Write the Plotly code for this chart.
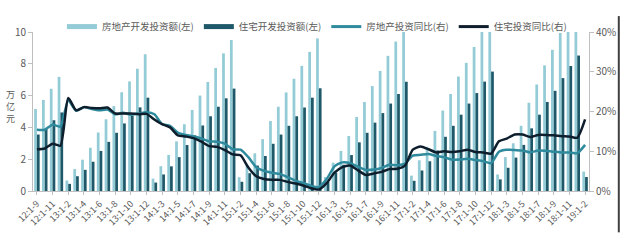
import plotly.graph_objects as go

categories = (
    ["12:1-9", "12:1-10", "12:1-11", "12:1-12"]
    + [f"{y}:1-{m}" for y in range(13, 19) for m in range(2, 13)]
    + ["19:1-2"]
)

re_invest = [5.16, 5.73, 6.43, 7.18,
             0.66, 1.38, 1.97, 2.72, 3.68, 4.51, 5.34, 6.21, 6.89, 7.69, 8.60,
             0.78, 1.56, 2.27, 3.12, 4.20, 5.10, 6.00, 6.86, 7.74, 8.66, 9.50,
             0.87, 1.66, 2.37, 3.26, 4.40, 5.30, 6.20, 7.06, 7.87, 8.75, 9.60,
             0.88, 1.78, 2.52, 3.46, 4.66, 5.60, 6.60, 7.55, 8.50, 9.40, 10.26,
             0.97, 1.93, 2.78, 3.78, 5.06, 6.10, 7.20, 8.06, 9.06, 10.10, 10.98,
             1.04, 2.13, 3.00, 4.10, 5.55, 6.70, 7.90, 8.88, 9.94, 11.00, 12.00,
             1.22]

res_invest = [3.55, 3.91, 4.45, 4.94,
              0.45, 0.93, 1.33, 1.84, 2.52, 3.09, 3.66, 4.25, 4.72, 5.26, 5.87,
              0.53, 1.04, 1.55, 2.13, 2.89, 3.50, 4.12, 4.70, 5.30, 5.83, 6.44,
              0.58, 1.12, 1.60, 2.20, 2.97, 3.55, 4.10, 4.70, 5.25, 5.87, 6.46,
              0.58, 1.16, 1.65, 2.26, 3.06, 3.66, 4.30, 4.90, 5.50, 6.10, 6.87,
              0.64, 1.29, 1.87, 2.55, 3.41, 4.10, 4.80, 5.50, 6.16, 6.88, 7.51,
              0.73, 1.46, 2.10, 2.90, 3.94, 4.80, 5.60, 6.30, 7.10, 7.86, 8.52,
              0.88]

re_yoy = [15.4, 15.4, 16.7, 16.2,
          22.8, 20.2, 21.1, 20.6, 20.3, 20.5, 19.3, 19.7, 19.2, 19.5, 19.8,
          19.3, 16.8, 16.4, 14.7, 14.1, 13.7, 13.2, 12.5, 12.4, 11.9, 10.5,
          10.4, 8.5, 6.0, 5.1, 4.6, 4.3, 3.5, 2.6, 2.0, 1.3, 1.0,
          3.0, 6.2, 7.2, 7.0, 6.1, 5.3, 5.4, 5.8, 6.6, 6.5, 6.9,
          8.9, 9.1, 9.3, 8.8, 8.5, 7.9, 7.9, 8.1, 7.8, 7.5, 7.0,
          9.9, 10.4, 10.3, 10.2, 9.7, 10.2, 10.1, 9.9, 9.7, 9.7, 9.5,
          11.6]

res_yoy = [10.5, 10.7, 11.9, 11.4,
           23.4, 20.3, 21.1, 20.9, 20.8, 21.0, 19.5, 19.5, 19.5, 19.3, 19.4,
           18.0, 16.8, 16.0, 14.0, 13.7, 13.3, 12.4, 11.3, 11.1, 10.3, 9.2,
           9.0, 5.9, 3.7, 3.0, 2.8, 2.8, 2.3, 1.9, 1.4, 0.7, 0.4,
           2.0, 4.6, 6.0, 6.4, 5.2, 4.0, 4.4, 4.8, 5.5, 5.6, 6.4,
           10.4, 11.2, 10.5, 9.7, 10.0, 9.8, 10.0, 10.4, 9.8, 9.7, 9.4,
           12.5, 13.2, 14.2, 14.2, 13.6, 14.1, 14.1, 14.0, 13.8, 13.7, 13.4,
           18.0]

tick_labels = categories[::2]
unit_chars = ["万", "亿", "元"]

FONT = "Noto Sans CJK SC"
GRAY = "#595959"
C_LIGHT = "#93CBD6"
C_DARK = "#1F5868"
C_TEAL = "#2E8A9C"
C_BLACK = "#0E1E2C"

fig = go.Figure()
fig.add_trace(go.Bar(x=categories, y=re_invest, name="房地产开发投资额(左)", showlegend=False,
                     marker=dict(color=C_LIGHT, line_width=0)))
fig.add_trace(go.Bar(x=categories, y=res_invest, name="住宅开发投资额(左)", showlegend=False,
                     marker=dict(color=C_DARK, line_width=0)))
fig.add_trace(go.Scatter(x=categories, y=[v / 100 for v in re_yoy], name="房地产投资同比(右)",
                         yaxis="y2", mode="lines", showlegend=False,
                         line=dict(color=C_TEAL, width=2.5, shape="spline", smoothing=0.6)))
fig.add_trace(go.Scatter(x=categories, y=[v / 100 for v in res_yoy], name="住宅投资同比(右)",
                         yaxis="y2", mode="lines", showlegend=False,
                         line=dict(color=C_BLACK, width=2.5, shape="spline", smoothing=0.6)))

# legend entries (wide bar-like swatches as in the reference)
for nm, col, w in [("房地产开发投资额(左)", C_LIGHT, 5), ("住宅开发投资额(左)", C_DARK, 5),
                   ("房地产投资同比(右)", C_TEAL, 3), ("住宅投资同比(右)", C_BLACK, 3)]:
    fig.add_trace(go.Scatter(x=[None], y=[None], mode="lines", name=nm,
                             line=dict(color=col, width=w), showlegend=True))

fig.update_layout(
    width=628, height=240,
    margin=dict(l=33, r=35, t=16, b=45),
    paper_bgcolor="white", plot_bgcolor="white",
    font=dict(family=FONT, size=10, color=GRAY),
    barmode="group", bargap=0.3, bargroupgap=0.0,
    showlegend=True,
    legend=dict(orientation="h", x=0.052, xanchor="left", y=1.034, yanchor="middle",
                font=dict(size=9.5, color=GRAY), bgcolor="rgba(0,0,0,0)",
                itemwidth=30, tracegroupgap=0),
    xaxis=dict(type="category", categoryorder="array", categoryarray=categories,
               tickmode="array", tickvals=tick_labels, ticktext=tick_labels,
               tickangle=-45, tickfont=dict(size=9, color=GRAY),
               showline=True, linecolor="#BFBFBF", linewidth=1,
               ticks="outside", ticklen=3, tickcolor="#BFBFBF",
               showgrid=False, zeroline=False),
    yaxis=dict(range=[0, 10], dtick=2, showgrid=False, zeroline=False,
               showline=True, linecolor="#BFBFBF", linewidth=1,
               ticks="outside", ticklen=4, tickcolor="#BFBFBF",
               tickfont=dict(size=10, color=GRAY)),
    yaxis2=dict(range=[0, 0.4], dtick=0.1, tickformat=".0%", overlaying="y", side="right",
                showgrid=False, zeroline=False,
                showline=True, linecolor="#BFBFBF", linewidth=1,
                ticks="outside", ticklen=4, tickcolor="#BFBFBF",
                tickfont=dict(size=10, color=GRAY)),
    annotations=[dict(text=ch, xref="paper", yref="paper",
                      x=-0.041, y=yy, xanchor="center", yanchor="middle", borderpad=0,
                      showarrow=False, font=dict(size=9, color=GRAY, family=FONT))
                 for ch, yy in zip(unit_chars, [0.608, 0.531, 0.454])],
    shapes=[dict(type="line", xref="paper", yref="paper", x0=1.0536, x1=1.0536,
                 y0=-0.26, y1=1.1, line=dict(color="#404040", width=2))],
)

fig.write_html("out.html")
